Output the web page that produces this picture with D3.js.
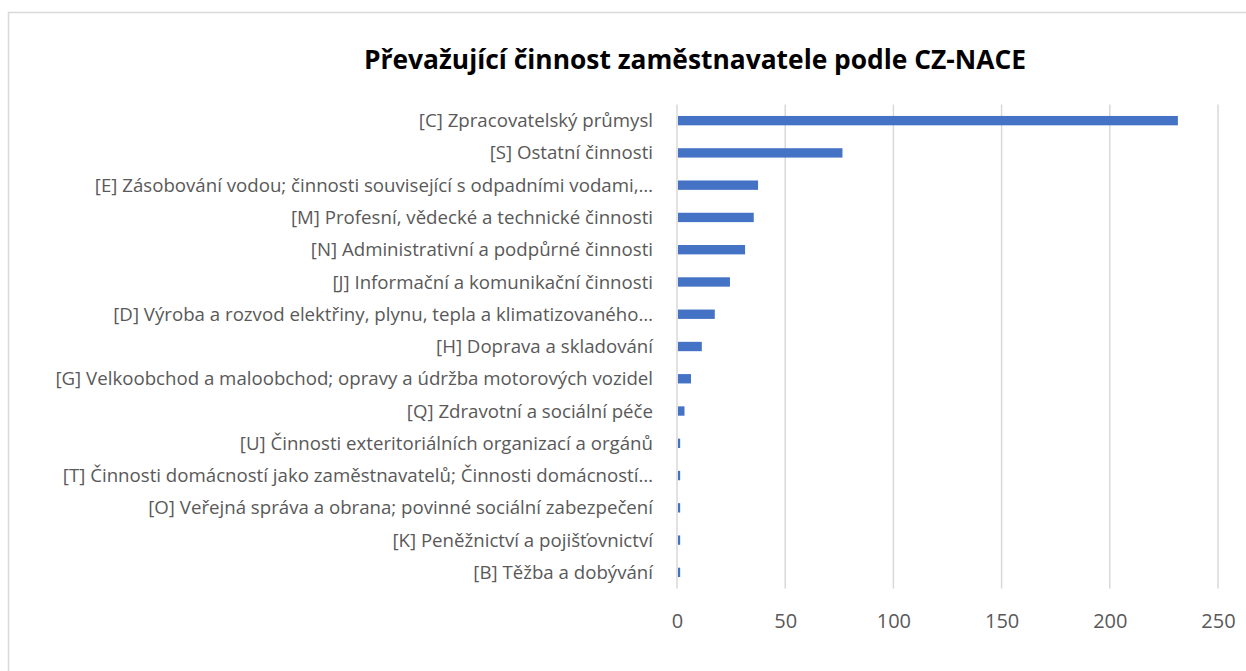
<!DOCTYPE html>
<html>
<head>
<meta charset="utf-8">
<script src="https://cdn.jsdelivr.net/npm/d3@7"></script>
<style>
  body { margin: 0; background: white; }
  text { font-family: "Open Sans", "Noto Sans", sans-serif; }
</style>
</head>
<body>
<script>
const width = 1246;
const height = 671;

// data
const categories = [
    "[C] Zpracovatelský průmysl",
    "[S] Ostatní činnosti",
    "[E] Zásobování vodou; činnosti související s odpadními vodami,…",
    "[M] Profesní, vědecké a technické činnosti",
    "[N] Administrativní a podpůrné činnosti",
    "[J] Informační a komunikační činnosti",
    "[D] Výroba a rozvod elektřiny, plynu, tepla a klimatizovaného…",
    "[H] Doprava a skladování",
    "[G] Velkoobchod a maloobchod; opravy a údržba motorových vozidel",
    "[Q] Zdravotní a sociální péče",
    "[U] Činnosti exteritoriálních organizací a orgánů",
    "[T] Činnosti domácností jako zaměstnavatelů; Činnosti domácností…",
    "[O] Veřejná správa a obrana; povinné sociální zabezpečení",
    "[K] Peněžnictví a pojišťovnictví",
    "[B] Těžba a dobývání"
];
const values = [231, 76, 37, 35, 31, 24, 17, 11, 6, 3, 1, 1, 1, 1, 1];
const xTicks = [0, 50, 100, 150, 200, 250];
const title = "Převažující činnost zaměstnavatele podle CZ-NACE";

const x_range = [677, 1218];
const y_range = [104.5, 588.5];

let svg = d3.select("body")
    .append("svg")
    .attr("width", width)
    .attr("height", height);

// chart frame
svg.append("rect")
    .attr("x", 8.5)
    .attr("y", 12.5)
    .attr("width", 1300)
    .attr("height", 700)
    .attr("fill", "white")
    .attr("stroke", "#d9d9d9")
    .attr("stroke-width", 1.5);

let xScale = d3.scaleLinear()
    .domain([0, 250])
    .range(x_range);

let yScale = d3.scaleBand()
    .domain(categories)
    .range(y_range)
    .paddingInner(0.71)
    .paddingOuter(0.355);

// gridlines
svg.append("g")
    .selectAll("line")
    .data(xTicks)
    .enter()
    .append("line")
    .attr("x1", d => xScale(d))
    .attr("x2", d => xScale(d))
    .attr("y1", y_range[0])
    .attr("y2", y_range[1])
    .attr("stroke", "#d9d9d9")
    .attr("stroke-width", 1.5);

// bars
svg.append("g")
    .selectAll("rect")
    .data(values)
    .enter()
    .append("rect")
    .attr("x", xScale(0) + 1)
    .attr("y", (d, i) => yScale(categories[i]))
    .attr("width", d => xScale(d) - xScale(0))
    .attr("height", yScale.bandwidth())
    .attr("fill", "#4472c4");

// x axis
let x_axis = d3.axisBottom(xScale)
    .tickValues(xTicks)
    .tickSize(0)
    .tickPadding(0);

let axis = svg.append("g")
    .attr("transform", "translate(0, 628)")
    .call(x_axis);
axis.select(".domain").remove();
axis.selectAll(".tick text")
    .attr("dy", 0)
    .attr("fill", "#595959")
    .style("font-family", "'Open Sans', sans-serif")
    .style("font-size", "20px");

// y axis (category labels)
let y_axis = d3.axisLeft(yScale)
    .tickSize(0)
    .tickPadding(0);

let yAxis = svg.append("g")
    .attr("transform", "translate(653, 0)")
    .call(y_axis);
yAxis.select(".domain").remove();
let labels = yAxis.selectAll(".tick text")
    .attr("fill", "#595959")
    .attr("dy", "0.35em")
    .style("font-family", "'Open Sans', sans-serif")
    .style("font-size", "16px");

// fit label font to the width of the longest label in the picture
let longest = labels.filter(d => d.startsWith("[G]")).node();
let lw = longest.getComputedTextLength();
labels.style("font-size", (16 * 598 / lw).toFixed(2) + "px");

// title
let t = svg.append("text")
    .attr("text-anchor", "middle")
    .attr("x", 695)
    .attr("y", 69)
    .attr("fill", "black")
    .style("font-weight", "bold")
    .style("font-family", "'Open Sans', sans-serif")
    .style("font-size", "24px")
    .text(title);
let tw = t.node().getComputedTextLength();
t.style("font-size", (24 * 662 / tw).toFixed(2) + "px");
</script>
</body>
</html>
